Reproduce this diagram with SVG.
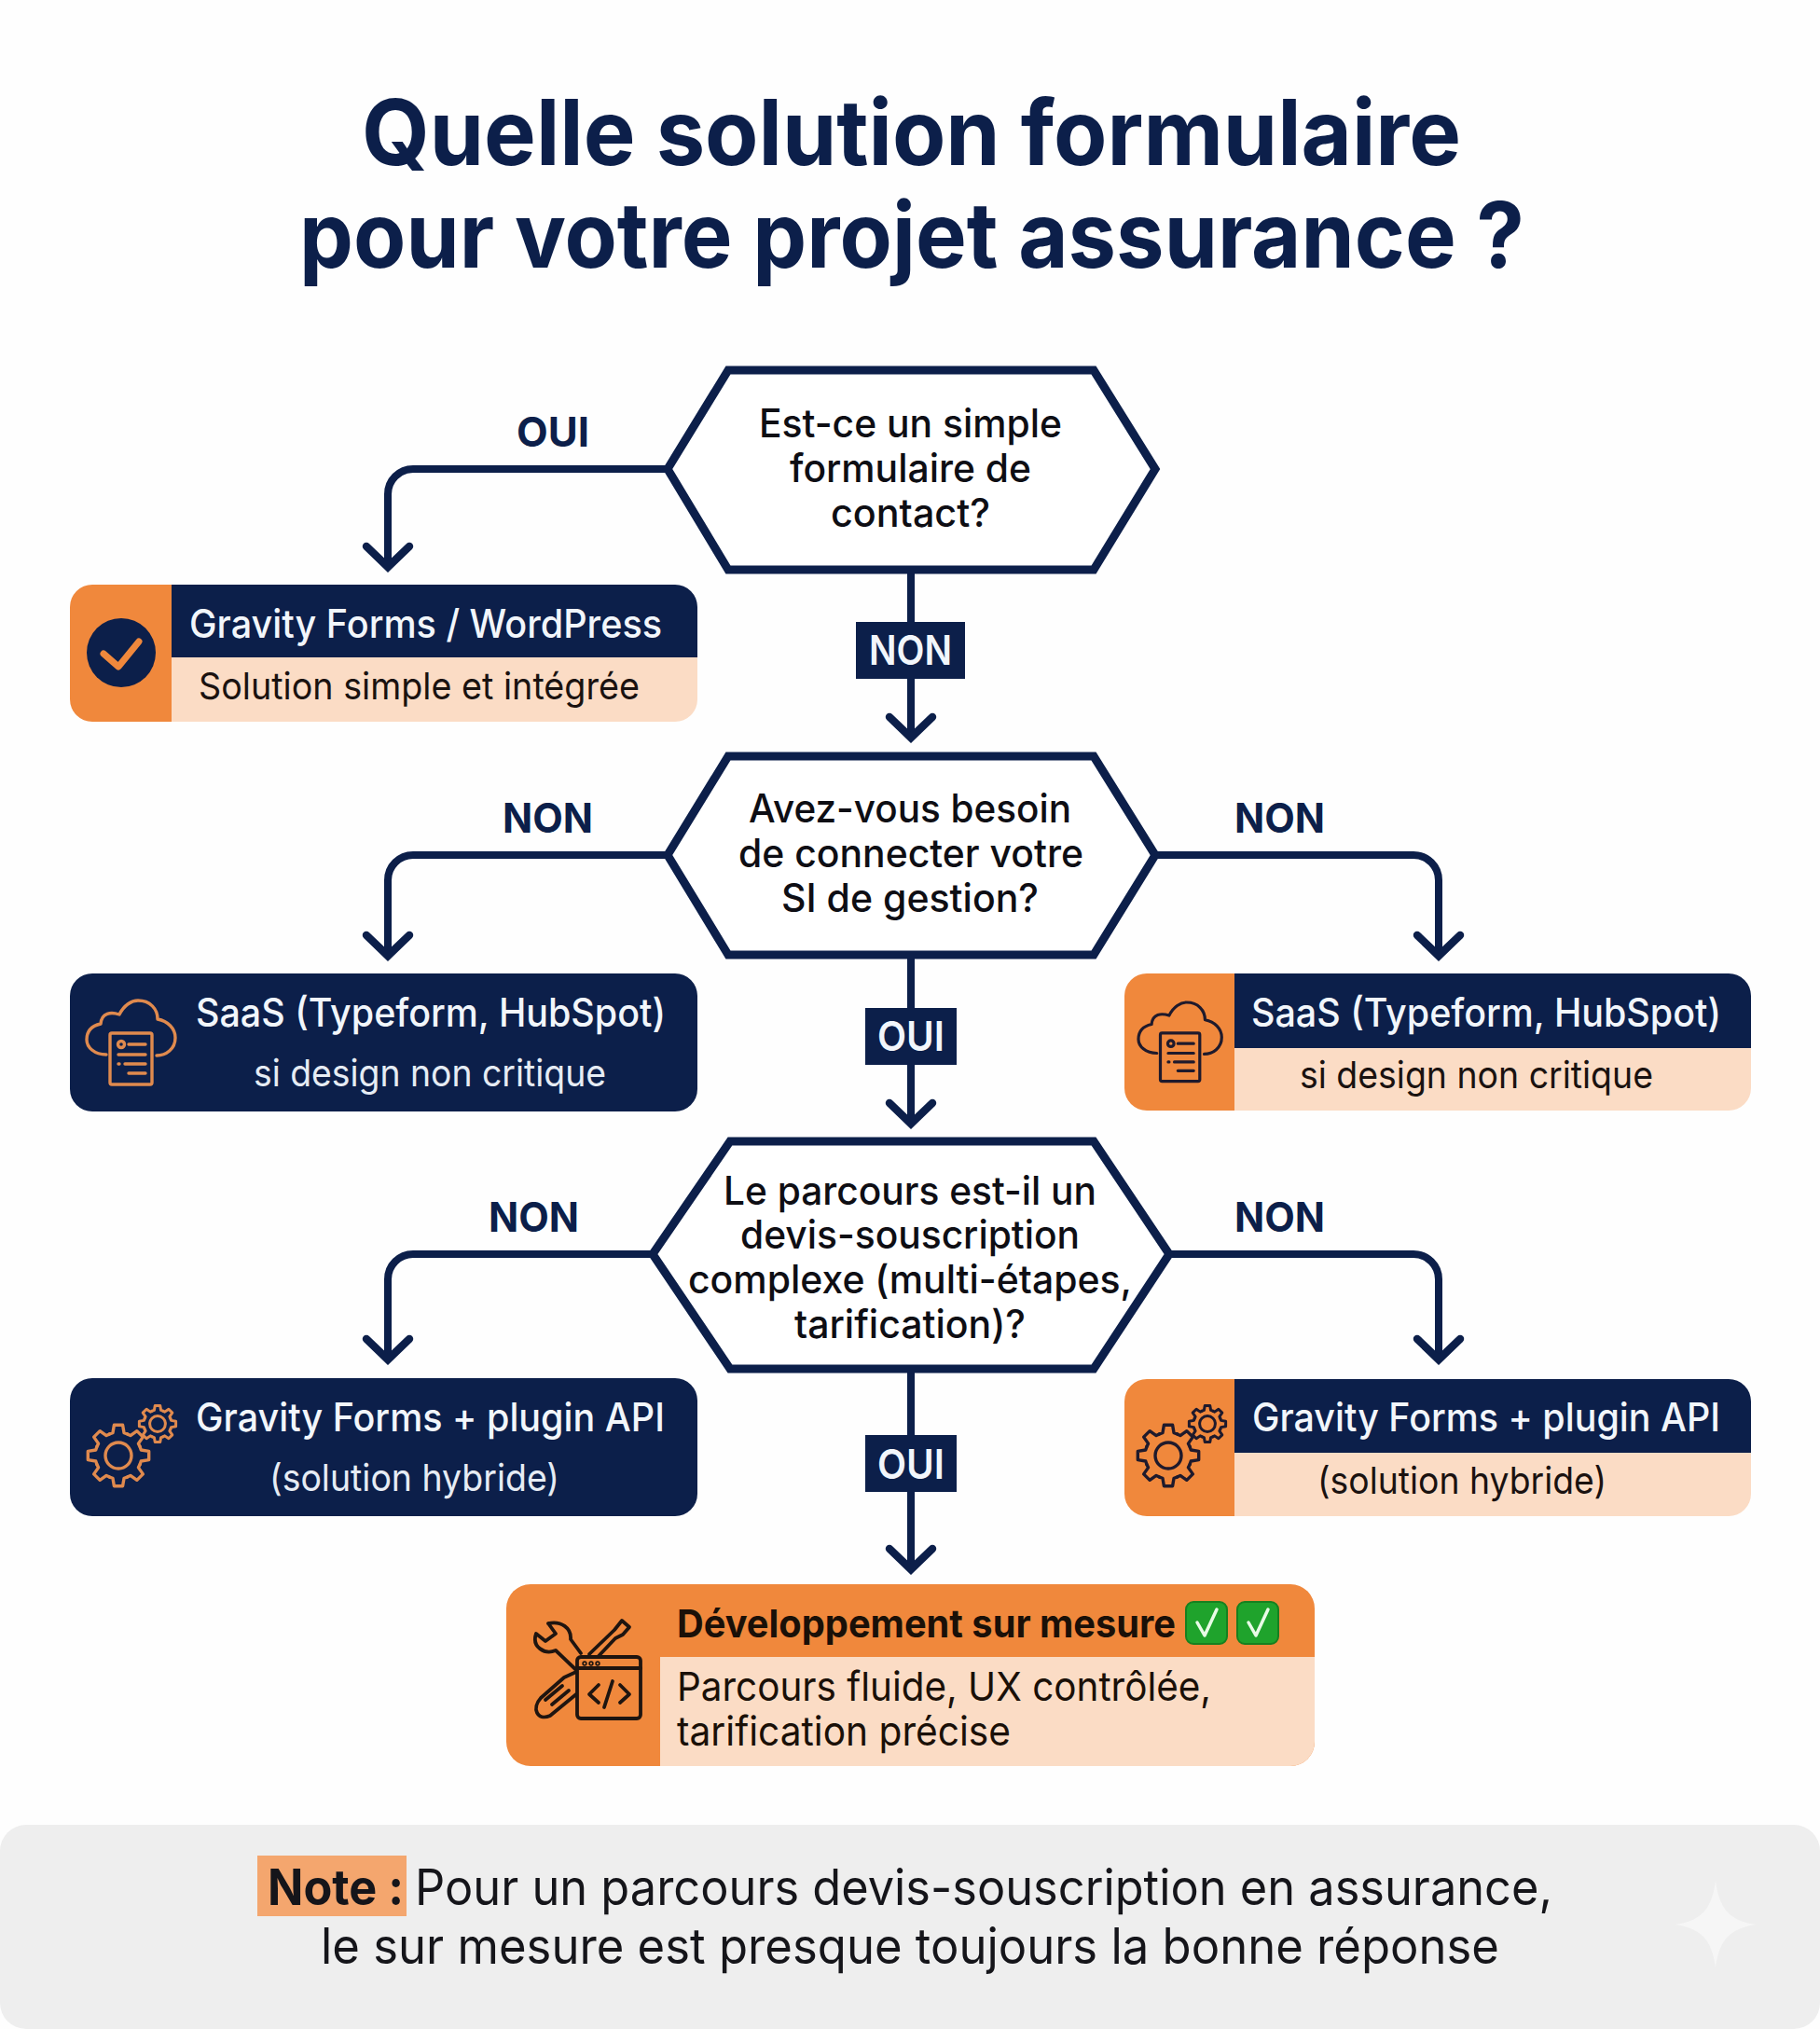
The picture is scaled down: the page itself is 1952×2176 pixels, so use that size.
<svg xmlns="http://www.w3.org/2000/svg" width="1952" height="2176" viewBox="0 0 1952 2176">
<style>
text{font-family:Inter,"Liberation Sans",sans-serif}
.title{font-size:98px;font-weight:700;fill:#0c1f4a}
.q{font-size:42px;font-weight:500;fill:#0e0e14}
.lab{font-size:44px;font-weight:700;fill:#0c1f4a}
.labw{font-size:44px;font-weight:600;fill:#f2f6fb}
.ct{font-size:42px;font-weight:500;fill:#f2f6fb}
.cs{font-size:40px;font-weight:400;fill:#1a1210}
.csw{font-size:40px;font-weight:400;fill:#e6ecf4}
.bt{font-size:41px;font-weight:700;fill:#1a1008}
.bs{font-size:43px;font-weight:400;fill:#1a1008}
.note{font-size:53px;font-weight:400;fill:#15151a}
.noteb{font-size:53px;font-weight:700;fill:#15151a}
.navy{fill:#0c1f4a}.orange{fill:#f0883c}.peach{fill:#fbdcc5}
.hex{fill:#fff;stroke:#0c1f4a;stroke-width:9;stroke-linejoin:miter}
.conn{fill:none;stroke:#0c1f4a;stroke-width:8}
.ico{fill:none;stroke-width:3.4;stroke-linecap:round;stroke-linejoin:round}
</style>
<defs>
<marker id="arrow" markerUnits="userSpaceOnUse" markerWidth="70" markerHeight="70" refX="35" refY="35" orient="auto" overflow="visible">
<path d="M13 12 L35 35 L13 58" fill="none" stroke="#0c1f4a" stroke-width="8.5" stroke-linecap="round" stroke-linejoin="miter"/>
</marker>
<g id="cloudicon">
<path d="M21 58 C8 58 0 50 0 42 C0 32 6 27 15 25 C16 13 26 12 35 15 C40 5 48 0 55 0 C68 0 76 9 76 20 C87 22 95 30 95 40 C95 52 85 59 75 59"/>
<rect x="25" y="35" width="45" height="55" rx="2"/>
<circle cx="37" cy="47" r="3.5"/><path d="M45 47 H63 M34 58 H63 M34 68 H35 M41 68 H63 M45 78 H63"/>
</g>
<path id="tooth" d="M23.1 -9.57 L24.26 -6.05 L32.68 -4.59 V4.59 L24.26 6.05 L23.1 9.57"/>
<g id="gear">
<use href="#tooth"/><use href="#tooth" transform="rotate(45)"/><use href="#tooth" transform="rotate(90)"/><use href="#tooth" transform="rotate(135)"/><use href="#tooth" transform="rotate(180)"/><use href="#tooth" transform="rotate(225)"/><use href="#tooth" transform="rotate(270)"/><use href="#tooth" transform="rotate(315)"/>
<circle r="14"/>
</g>
<g id="gears">
<use href="#gear" transform="translate(127 1561)"/>
<use href="#gear" transform="translate(169 1527) scale(.6)" stroke-width="5"/>
</g>
<g id="okbox"><rect width="44" height="45" rx="8" fill="#1fa32c" stroke="#17801f" stroke-width="2"/><path d="M12 22 L20 36 L33 8" fill="none" stroke="#e8fbe6" stroke-width="3.5" stroke-linecap="round" stroke-linejoin="round"/></g>
</defs>
<rect width="1952" height="2176" fill="#fefefe"/>
<text class="title" x="388" y="177" textLength="1179" lengthAdjust="spacingAndGlyphs">Quelle solution formulaire</text>
<text class="title" x="321" y="287" textLength="1314" lengthAdjust="spacingAndGlyphs">pour votre projet assurance ?</text>

<g id="connectors">
<path class="conn" marker-end="url(#arrow)" d="M716 503 H443 A27 27 0 0 0 416 530 V608"/>
<path class="conn" marker-end="url(#arrow)" d="M977 611 V791"/>
<path class="conn" marker-end="url(#arrow)" d="M716 917 H443 A27 27 0 0 0 416 944 V1025"/>
<path class="conn" marker-end="url(#arrow)" d="M1239 917 H1516 A27 27 0 0 1 1543 944 V1025"/>
<path class="conn" marker-end="url(#arrow)" d="M977 1024 V1205"/>
<path class="conn" marker-end="url(#arrow)" d="M700 1345 H443 A27 27 0 0 0 416 1372 V1458"/>
<path class="conn" marker-end="url(#arrow)" d="M1254 1345 H1516 A27 27 0 0 1 1543 1372 V1458"/>
<path class="conn" marker-end="url(#arrow)" d="M977 1468 V1683"/>
</g>
<g id="connector-labels">
<text class="lab" x="554" y="479" textLength="78" lengthAdjust="spacingAndGlyphs">OUI</text>
<rect class="navy" x="918" y="667" width="117" height="61"/>
<text class="labw" x="932" y="713" textLength="89" lengthAdjust="spacingAndGlyphs">NON</text>
<text class="lab" x="539" y="893" textLength="97" lengthAdjust="spacingAndGlyphs">NON</text>
<text class="lab" x="1324" y="893" textLength="97" lengthAdjust="spacingAndGlyphs">NON</text>
<rect class="navy" x="928" y="1081" width="98" height="61"/>
<text class="labw" x="941" y="1127" textLength="72" lengthAdjust="spacingAndGlyphs">OUI</text>
<text class="lab" x="524" y="1321" textLength="97" lengthAdjust="spacingAndGlyphs">NON</text>
<text class="lab" x="1324" y="1321" textLength="97" lengthAdjust="spacingAndGlyphs">NON</text>
<rect class="navy" x="928" y="1539" width="98" height="61"/>
<text class="labw" x="941" y="1586" textLength="72" lengthAdjust="spacingAndGlyphs">OUI</text>
</g>

<g id="q1">
<path class="hex" d="M781 397 H1173 L1239 503 L1173 611 H781 L716 503 Z"/>
<text class="q" x="814" y="469" textLength="325" lengthAdjust="spacingAndGlyphs">Est-ce un simple</text>
<text class="q" x="847" y="517" textLength="259" lengthAdjust="spacingAndGlyphs">formulaire de</text>
<text class="q" x="891" y="565" textLength="171" lengthAdjust="spacingAndGlyphs">contact?</text>
</g>
<g id="q2">
<path class="hex" d="M781 811 H1173 L1239 917 L1173 1024 H781 L716 917 Z"/>
<text class="q" x="803" y="882" textLength="346" lengthAdjust="spacingAndGlyphs">Avez-vous besoin</text>
<text class="q" x="792" y="930" textLength="370" lengthAdjust="spacingAndGlyphs">de connecter votre</text>
<text class="q" x="838" y="978" textLength="276" lengthAdjust="spacingAndGlyphs">SI de gestion?</text>
</g>
<g id="q3">
<path class="hex" d="M783 1224 H1173 L1254 1345 L1173 1468 H783 L700 1345 Z"/>
<text class="q" x="776" y="1292" textLength="400" lengthAdjust="spacingAndGlyphs">Le parcours est-il un</text>
<text class="q" x="794" y="1339" textLength="364" lengthAdjust="spacingAndGlyphs">devis-souscription</text>
<text class="q" x="738" y="1387" textLength="476" lengthAdjust="spacingAndGlyphs">complexe (multi-étapes,</text>
<text class="q" x="852" y="1435" textLength="248" lengthAdjust="spacingAndGlyphs">tarification)?</text>
</g>

<g id="card-gravity-wp">
<path class="orange" d="M184 627 H99 A24 24 0 0 0 75 651 V750 A24 24 0 0 0 99 774 H184 Z"/>
<path class="navy" d="M184 627 H724 A24 24 0 0 1 748 651 V705 H184 Z"/>
<path class="peach" d="M184 705 H748 V750 A24 24 0 0 1 724 774 H184 Z"/>
<circle class="navy" cx="130" cy="700" r="37"/>
<path d="M111 701 L127 715 L149 688" fill="none" stroke="#f0883c" stroke-width="7" stroke-linecap="round" stroke-linejoin="round"/>
<text class="ct" x="203" y="684" textLength="507" lengthAdjust="spacingAndGlyphs">Gravity Forms / WordPress</text>
<text class="cs" x="213" y="750" textLength="473" lengthAdjust="spacingAndGlyphs">Solution simple et intégrée</text>
</g>
<g id="card-saas-dark">
<rect class="navy" x="75" y="1044" width="673" height="148" rx="24"/>
<use href="#cloudicon" class="ico" stroke="#e08a4e" transform="translate(93 1073)"/>
<text class="ct" x="210" y="1101" textLength="504" lengthAdjust="spacingAndGlyphs">SaaS (Typeform, HubSpot)</text>
<text class="csw" x="272" y="1165" textLength="378" lengthAdjust="spacingAndGlyphs">si design non critique</text>
</g>
<g id="card-saas-light">
<path class="orange" d="M1324 1044 H1230 A24 24 0 0 0 1206 1068 V1167 A24 24 0 0 0 1230 1191 H1324 Z"/>
<path class="navy" d="M1324 1044 H1854 A24 24 0 0 1 1878 1068 V1124 H1324 Z"/>
<path class="peach" d="M1324 1124 H1878 V1167 A24 24 0 0 1 1854 1191 H1324 Z"/>
<use href="#cloudicon" class="ico" stroke="#1f1a2c" transform="translate(1221 1075) scale(.94)"/>
<text class="ct" x="1342" y="1101" textLength="504" lengthAdjust="spacingAndGlyphs">SaaS (Typeform, HubSpot)</text>
<text class="cs" x="1394" y="1167" textLength="379" lengthAdjust="spacingAndGlyphs">si design non critique</text>
</g>
<g id="card-plugin-dark">
<rect class="navy" x="75" y="1478" width="673" height="148" rx="24"/>
<use href="#gears" class="ico" stroke="#e08a4e"/>
<text class="ct" x="210" y="1535" textLength="503" lengthAdjust="spacingAndGlyphs">Gravity Forms + plugin API</text>
<text class="csw" x="289" y="1599" textLength="311" lengthAdjust="spacingAndGlyphs">(solution hybride)</text>
</g>
<g id="card-plugin-light">
<path class="orange" d="M1324 1479 H1230 A24 24 0 0 0 1206 1503 V1602 A24 24 0 0 0 1230 1626 H1324 Z"/>
<path class="navy" d="M1324 1479 H1854 A24 24 0 0 1 1878 1503 V1558 H1324 Z"/>
<path class="peach" d="M1324 1558 H1878 V1602 A24 24 0 0 1 1854 1626 H1324 Z"/>
<use href="#gears" class="ico" stroke="#1f1a2c" transform="translate(1126 0)"/>
<text class="ct" x="1343" y="1535" textLength="502" lengthAdjust="spacingAndGlyphs">Gravity Forms + plugin API</text>
<text class="cs" x="1413" y="1602" textLength="310" lengthAdjust="spacingAndGlyphs">(solution hybride)</text>
</g>
<g id="card-custom">
<rect class="orange" x="543" y="1699" width="867" height="195" rx="26"/>
<path class="peach" d="M708 1777 H1410 V1868 A26 26 0 0 1 1384 1894 H708 Z"/>
<g class="ico" stroke="#1f1510" style="stroke-width:3.8">
<path d="M588 1741 C602 1738 613 1746 612 1758 L623 1773 M617 1790 L596 1770 C584 1775 570 1766 575 1752 L585 1760 L596 1752 L588 1741"/>
<path d="M632 1774 L659 1748 L667 1738 L675 1745 L668 1753 L660 1757 L642 1776"/>
<path d="M618 1793 L605 1799 L580 1821 C570 1832 576 1846 590 1840 L618 1817 M585 1823 L603 1808 M592 1828 L610 1813"/>
<rect x="619" y="1777" width="68" height="66" rx="4"/>
<path d="M619 1789 H687 M642 1807 L632 1817 L642 1826 M657 1803 L648 1831 M665 1807 L675 1817 L665 1826"/>
<circle cx="627" cy="1784" r=".8"/><circle cx="634" cy="1784" r=".8"/><circle cx="641" cy="1784" r=".8"/>
</g>
<text class="bt" x="726" y="1756" textLength="535" lengthAdjust="spacingAndGlyphs">Développement sur mesure</text>
<use href="#okbox" transform="translate(1272 1718)"/>
<use href="#okbox" transform="translate(1327 1718)"/>
<text class="bs" x="726" y="1824" textLength="573" lengthAdjust="spacingAndGlyphs">Parcours fluide, UX contrôlée,</text>
<text class="bs" x="726" y="1872" textLength="358" lengthAdjust="spacingAndGlyphs">tarification précise</text>
</g>
<g id="note">
<rect x="0" y="1957" width="1952" height="219" rx="28" fill="#eeeeee"/>
<path d="M1840 2017 C1844 2048 1856 2060 1883 2064 C1856 2068 1844 2080 1840 2110 C1836 2080 1824 2068 1797 2064 C1824 2060 1836 2048 1840 2017 Z" fill="#f6f6f6"/>
<rect x="276" y="1990" width="160" height="65" fill="#f4a66e"/>
<text class="noteb" x="287" y="2043" textLength="146" lengthAdjust="spacingAndGlyphs">Note :</text>
<text class="note" x="445" y="2043" textLength="1220" lengthAdjust="spacingAndGlyphs">Pour un parcours devis-souscription en assurance,</text>
<text class="note" x="344" y="2106" textLength="1264" lengthAdjust="spacingAndGlyphs">le sur mesure est presque toujours la bonne réponse</text>
</g>
</svg>
